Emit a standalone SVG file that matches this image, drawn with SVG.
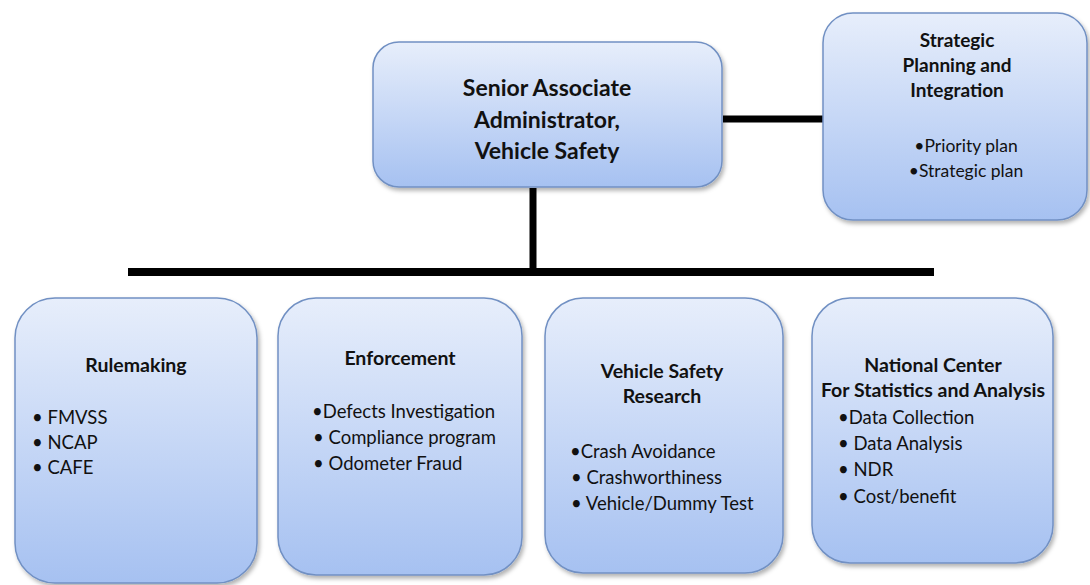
<svg xmlns="http://www.w3.org/2000/svg" width="1090" height="585" viewBox="0 0 1090 585">
<defs>
<linearGradient id="g" x1="0" y1="0" x2="0" y2="1">
<stop offset="0" stop-color="#e7eefb"/>
<stop offset="1" stop-color="#a6c1f1"/>
</linearGradient>
<filter id="sh" x="-10%" y="-10%" width="125%" height="125%">
<feDropShadow dx="2" dy="3" stdDeviation="2" flood-color="#000" flood-opacity="0.3"/>
</filter>
</defs>
<style>
.box{fill:url(#g);stroke:#7190c3;stroke-width:1.5;filter:url(#sh)}
.t{font-family:Lato,"Liberation Sans",sans-serif;fill:#111;}
.b{font-weight:bold}
.m{text-anchor:middle}
.c{stroke:#000;fill:none}
</style>
<rect width="1090" height="585" fill="#fff"/>
<g id="connectors">
<line class="c" x1="723" y1="119" x2="824" y2="119" stroke-width="7"/>
<line class="c" x1="533" y1="188" x2="533" y2="272" stroke-width="7"/>
<line class="c" x1="128" y1="272" x2="934" y2="272" stroke-width="8"/>
</g>
<g id="senior">
<rect class="box" x="373" y="42" width="349" height="145" rx="26"/>
<text class="t b m" font-size="23"><tspan x="547" y="96">Senior Associate</tspan><tspan x="547" y="128">Administrator,</tspan><tspan x="547" y="159">Vehicle Safety</tspan></text>
</g>
<g id="strategic">
<rect class="box" x="823" y="13" width="264" height="207" rx="30"/>
<text class="t b m" font-size="19"><tspan x="957" y="47">Strategic</tspan><tspan x="957" y="72">Planning and</tspan><tspan x="957" y="97">Integration</tspan></text>
<text class="t m" font-size="17.5"><tspan x="966" y="152">•Priority plan</tspan><tspan x="966" y="177">•Strategic plan</tspan></text>
</g>
<g id="rulemaking">
<rect class="box" x="15" y="298" width="242" height="285" rx="40"/>
<text class="t b m" font-size="19.5" x="136" y="372">Rulemaking</text>
<text class="t" font-size="18.5"><tspan x="32" y="424">• FMVSS</tspan><tspan x="32" y="449">• NCAP</tspan><tspan x="32" y="474">• CAFE</tspan></text>
</g>
<g id="enforcement">
<rect class="box" x="278" y="298" width="244" height="277" rx="38"/>
<text class="t b m" font-size="19.5" x="400" y="365">Enforcement</text>
<text class="t" font-size="18.5"><tspan x="312" y="418">•Defects Investigation</tspan><tspan x="313" y="444">• Compliance program</tspan><tspan x="313" y="470">• Odometer Fraud</tspan></text>
</g>
<g id="research">
<rect class="box" x="545" y="298" width="238" height="275" rx="38"/>
<text class="t b m" font-size="19.5"><tspan x="662" y="378">Vehicle Safety</tspan><tspan x="662" y="403">Research</tspan></text>
<text class="t" font-size="18.5"><tspan x="570" y="458">•Crash Avoidance</tspan><tspan x="571" y="484">• Crashworthiness</tspan><tspan x="571" y="510">• Vehicle/Dummy Test</tspan></text>
</g>
<g id="ncsa">
<rect class="box" x="812" y="298" width="241" height="265" rx="38"/>
<text class="t b m" font-size="19.5"><tspan x="933" y="372">National Center</tspan><tspan x="933" y="397">For Statistics and Analysis</tspan></text>
<text class="t" font-size="18.5"><tspan x="838" y="424">•Data Collection</tspan><tspan x="838" y="450">• Data Analysis</tspan><tspan x="838" y="476">• NDR</tspan><tspan x="838" y="503">• Cost/benefit</tspan></text>
</g>
</svg>
